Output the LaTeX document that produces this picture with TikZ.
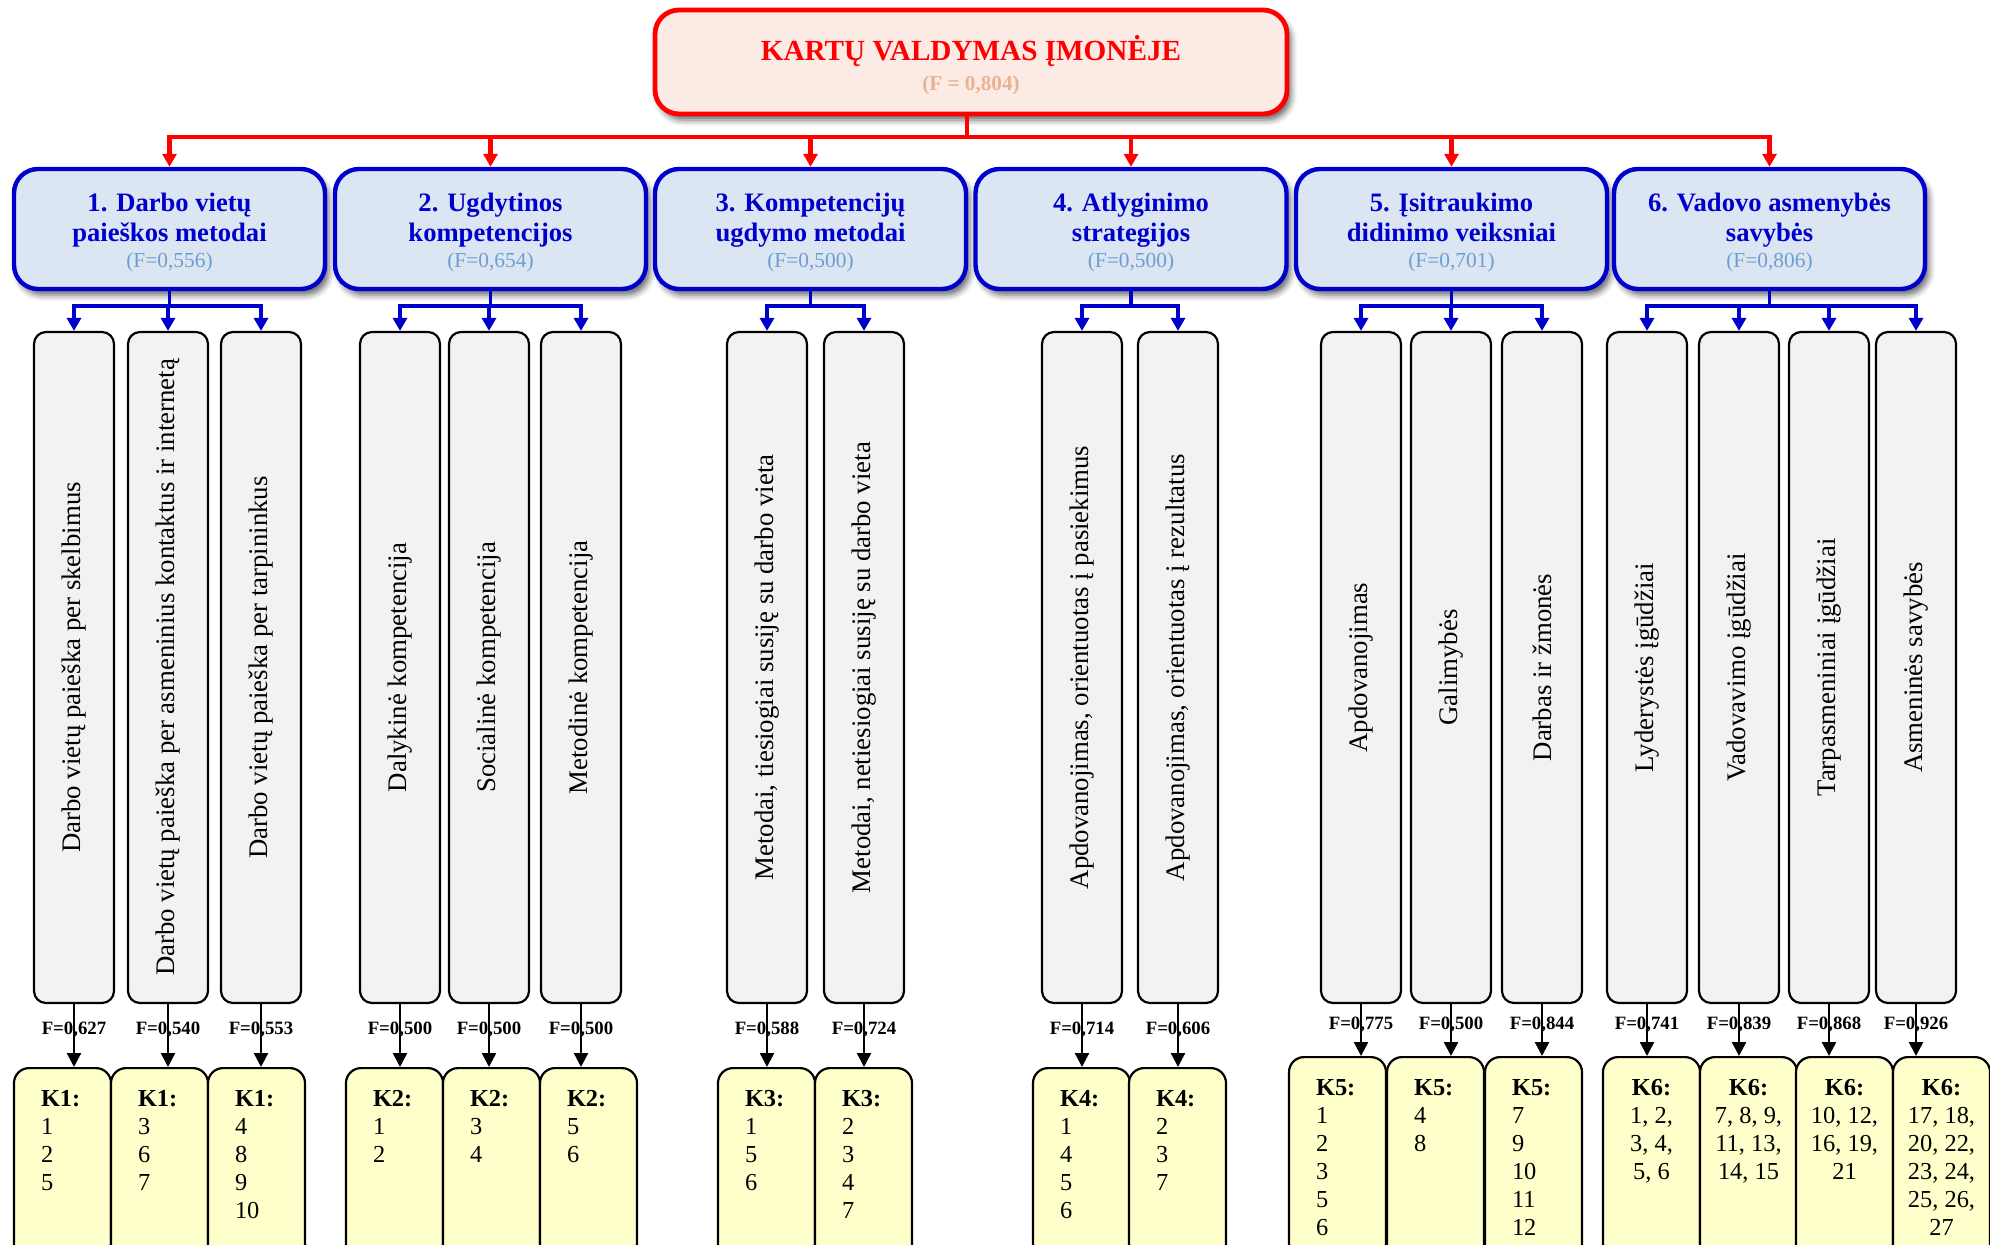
\documentclass[tikz,border=0pt]{standalone}
\usepackage{fontspec}
\setmainfont{Liberation Serif}
\usepackage{graphicx}
\usetikzlibrary{arrows.meta, shadows.blur}
\definecolor{toppink}{HTML}{FCEAE4}
\definecolor{toppeach}{HTML}{E8B391}
\definecolor{groupblue}{HTML}{0000CC}
\definecolor{groupfill}{HTML}{DCE6F2}
\definecolor{groupf}{HTML}{6E9DD3}
\definecolor{itemgrey}{HTML}{F2F2F2}
\definecolor{codeyellow}{HTML}{FFFFCC}
\newcommand{\topF}[1]{{\fontsize{10.6}{12}\selectfont\color{toppeach}#1}}
\newcommand{\groupF}[1]{{\fontsize{10.7}{12}\selectfont\mdseries\color{groupf}#1}}
\newcommand{\sidetext}[1]{\rotatebox{90}{#1}}
\newcommand{\kleft}[2]{\parbox[t][96pt][t]{21.5pt}{\textbf{#1}\\#2}}
\newcommand{\kmid}[2]{\parbox[t][96pt][t]{44.5pt}{\centering\textbf{#1}\\#2}}

\begin{document}
\begin{tikzpicture}[x=0.5pt, y=-0.5pt,
        top box/.style={draw=red, line width=2.4pt, fill=toppink, rounded corners=12pt,
            minimum width=316pt, minimum height=52pt, align=center, text=red,
            font=\fontsize{14.6}{17.5}\selectfont\bfseries,
            blur shadow={shadow xshift=2pt, shadow yshift=-3pt, shadow blur radius=3pt, shadow opacity=60}},
        group box/.style={draw=groupblue, line width=2.2pt, fill=groupfill, rounded corners=12pt,
            minimum width=155.5pt, minimum height=60pt, align=center, text=groupblue,
            font=\fontsize{13.3}{15.2}\selectfont\bfseries,
            blur shadow={shadow xshift=2pt, shadow yshift=-3pt, shadow blur radius=3pt, shadow opacity=60}},
        item box/.style={draw=black, line width=1.1pt, fill=itemgrey, rounded corners=6pt,
            minimum width=40pt, minimum height=335.5pt, inner sep=0pt,
            font=\fontsize{13.4}{16}\selectfont},
        code box/.style={draw=black, line width=1.1pt, fill=codeyellow, rounded corners=7.5pt,
            anchor=north, inner xsep=13.5pt, inner ysep=11pt,
            font=\fontsize{12.2}{14}\selectfont},
        wide code box/.style={code box, inner xsep=2pt},
        red arrow/.style={draw=red, line width=2.2pt, -{Triangle[width=7pt,length=6.5pt]}},
        blue arrow/.style={draw=groupblue, line width=1.8pt, -{Triangle[width=7pt,length=6.5pt]}},
        black arrow/.style={draw=black, line width=1.2pt, -{Triangle[width=7pt,length=7pt]}},
        f label/.style={font=\fontsize{9.4}{11}\selectfont\bfseries, inner sep=0pt, pos=0.4}]

    \useasboundingbox (0,0) rectangle (1990,1245);

    \node[top box] (top) at (971,62) {\rule{0pt}{15.5pt}KARTŲ VALDYMAS ĮMONĖJE\\[-2.5pt]\topF{(F = 0,804)}};

    \node[group box] (c1) at (169.5,229) {\rule{0pt}{13pt}1. Darbo vietų\\paieškos metodai\\[-2.2pt]\groupF{(F=0,556)}};
    \node[group box] (c2) at (490.5,229) {\rule{0pt}{13pt}2. Ugdytinos\\kompetencijos\\[-2.2pt]\groupF{(F=0,654)}};
    \node[group box] (c3) at (810.5,229) {\rule{0pt}{13pt}3. Kompetencijų\\ugdymo metodai\\[-2.2pt]\groupF{(F=0,500)}};
    \node[group box] (c4) at (1131,229) {\rule{0pt}{13pt}4. Atlyginimo\\strategijos\\[-2.2pt]\groupF{(F=0,500)}};
    \node[group box] (c5) at (1451.5,229) {\rule{0pt}{13pt}5. Įsitraukimo\\didinimo veiksniai\\[-2.2pt]\groupF{(F=0,701)}};
    \node[group box] (c6) at (1769.5,229) {\rule{0pt}{13pt}6. Vadovo asmenybės\\savybės\\[-2.2pt]\groupF{(F=0,806)}};

    \coordinate (redbus) at (0,137);
    \coordinate (bluebus) at (0,306);

    \draw[red arrow] ([xshift=-2pt]top.south) -- ([xshift=-2pt]top.south |- redbus) -| (c1.north);
    \draw[red arrow] ([xshift=-2pt]top.south) -- ([xshift=-2pt]top.south |- redbus) -| (c2.north);
    \draw[red arrow] ([xshift=-2pt]top.south) -- ([xshift=-2pt]top.south |- redbus) -| (c3.north);
    \draw[red arrow] ([xshift=-2pt]top.south) -- ([xshift=-2pt]top.south |- redbus) -| (c4.north);
    \draw[red arrow] ([xshift=-2pt]top.south) -- ([xshift=-2pt]top.south |- redbus) -| (c5.north);
    \draw[red arrow] ([xshift=-2pt]top.south) -- ([xshift=-2pt]top.south |- redbus) -| (c6.north);

    \node[item box] (v11) at (74,667.5) {\sidetext{Darbo vietų paieška per skelbimus}};
    \node[item box] (v12) at (168,667.5) {\sidetext{Darbo vietų paieška per asmeninius kontaktus ir internetą}};
    \node[item box] (v13) at (261,667.5) {\sidetext{Darbo vietų paieška per tarpininkus}};
    \node[item box] (v21) at (400,667.5) {\sidetext{Dalykinė kompetencija}};
    \node[item box] (v22) at (489,667.5) {\sidetext{Socialinė kompetencija}};
    \node[item box] (v23) at (581,667.5) {\sidetext{Metodinė kompetencija}};
    \node[item box] (v31) at (767,667.5) {\sidetext{Metodai, tiesiogiai susiję su darbo vieta}};
    \node[item box] (v32) at (864,667.5) {\sidetext{Metodai, netiesiogiai susiję su darbo vieta}};
    \node[item box] (v41) at (1082,667.5) {\sidetext{Apdovanojimas, orientuotas į pasiekimus}};
    \node[item box] (v42) at (1178,667.5) {\sidetext{Apdovanojimas, orientuotas į rezultatus}};
    \node[item box] (v51) at (1361,667.5) {\sidetext{Apdovanojimas}};
    \node[item box] (v52) at (1451,667.5) {\sidetext{Galimybės}};
    \node[item box] (v53) at (1542,667.5) {\sidetext{Darbas ir žmonės}};
    \node[item box] (v61) at (1647,667.5) {\sidetext{Lyderystės įgūdžiai}};
    \node[item box] (v62) at (1739,667.5) {\sidetext{Vadovavimo įgūdžiai}};
    \node[item box] (v63) at (1829,667.5) {\sidetext{Tarpasmeniniai įgūdžiai}};
    \node[item box] (v64) at (1916,667.5) {\sidetext{Asmeninės savybės}};

    \draw[blue arrow] (c1.south) -- (c1.south |- bluebus) -| (v11.north);
    \draw[blue arrow] (c1.south) -- (c1.south |- bluebus) -| (v12.north);
    \draw[blue arrow] (c1.south) -- (c1.south |- bluebus) -| (v13.north);
    \draw[blue arrow] (c2.south) -- (c2.south |- bluebus) -| (v21.north);
    \draw[blue arrow] (c2.south) -- (c2.south |- bluebus) -| (v22.north);
    \draw[blue arrow] (c2.south) -- (c2.south |- bluebus) -| (v23.north);
    \draw[blue arrow] (c3.south) -- (c3.south |- bluebus) -| (v31.north);
    \draw[blue arrow] (c3.south) -- (c3.south |- bluebus) -| (v32.north);
    \draw[blue arrow] (c4.south) -- (c4.south |- bluebus) -| (v41.north);
    \draw[blue arrow] (c4.south) -- (c4.south |- bluebus) -| (v42.north);
    \draw[blue arrow] (c5.south) -- (c5.south |- bluebus) -| (v51.north);
    \draw[blue arrow] (c5.south) -- (c5.south |- bluebus) -| (v52.north);
    \draw[blue arrow] (c5.south) -- (c5.south |- bluebus) -| (v53.north);
    \draw[blue arrow] (c6.south) -- (c6.south |- bluebus) -| (v61.north);
    \draw[blue arrow] (c6.south) -- (c6.south |- bluebus) -| (v62.north);
    \draw[blue arrow] (c6.south) -- (c6.south |- bluebus) -| (v63.north);
    \draw[blue arrow] (c6.south) -- (c6.south |- bluebus) -| (v64.north);

    \node[code box] (k11) at (62.5,1067) {\kleft{K1:}{1\\2\\5}};
    \node[code box] (k12) at (159.5,1067) {\kleft{K1:}{3\\6\\7}};
    \node[code box] (k13) at (256.5,1067) {\kleft{K1:}{4\\8\\9\\10}};
    \node[code box] (k21) at (394.5,1067) {\kleft{K2:}{1\\2}};
    \node[code box] (k22) at (491.5,1067) {\kleft{K2:}{3\\4}};
    \node[code box] (k23) at (588.5,1067) {\kleft{K2:}{5\\6}};
    \node[code box] (k31) at (766.5,1067) {\kleft{K3:}{1\\5\\6}};
    \node[code box] (k32) at (863.5,1067) {\kleft{K3:}{2\\3\\4\\7}};
    \node[code box] (k41) at (1081.5,1067) {\kleft{K4:}{1\\4\\5\\6}};
    \node[code box] (k42) at (1177.5,1067) {\kleft{K4:}{2\\3\\7}};
    \node[code box] (k51) at (1337.5,1056) {\kleft{K5:}{1\\2\\3\\5\\6}};
    \node[code box] (k52) at (1435.5,1056) {\kleft{K5:}{4\\8}};
    \node[code box] (k53) at (1533.5,1056) {\kleft{K5:}{7\\9\\10\\11\\12}};
    \node[wide code box] (k61) at (1651.5,1056) {\kmid{K6:}{1, 2,\\3, 4,\\5, 6}};
    \node[wide code box] (k62) at (1748.5,1056) {\kmid{K6:}{7, 8, 9,\\11, 13,\\14, 15}};
    \node[wide code box] (k63) at (1844.5,1056) {\kmid{K6:}{10, 12,\\16, 19,\\21}};
    \node[wide code box] (k64) at (1941.5,1056) {\kmid{K6:}{17, 18,\\20, 22,\\23, 24,\\25, 26,\\27}};

    \draw[black arrow] (v11.south) -- node[f label] (f11) {F=0,627} (v11.south |- k11.north);
    \draw[black arrow] (v12.south) -- node[f label] (f12) {F=0,540} (v12.south |- k12.north);
    \draw[black arrow] (v13.south) -- node[f label] (f13) {F=0,553} (v13.south |- k13.north);
    \draw[black arrow] (v21.south) -- node[f label] (f21) {F=0,500} (v21.south |- k21.north);
    \draw[black arrow] (v22.south) -- node[f label] (f22) {F=0,500} (v22.south |- k22.north);
    \draw[black arrow] (v23.south) -- node[f label] (f23) {F=0,500} (v23.south |- k23.north);
    \draw[black arrow] (v31.south) -- node[f label] (f31) {F=0,588} (v31.south |- k31.north);
    \draw[black arrow] (v32.south) -- node[f label] (f32) {F=0,724} (v32.south |- k32.north);
    \draw[black arrow] (v41.south) -- node[f label] (f41) {F=0,714} (v41.south |- k41.north);
    \draw[black arrow] (v42.south) -- node[f label] (f42) {F=0,606} (v42.south |- k42.north);
    \draw[black arrow] (v51.south) -- node[f label] (f51) {F=0,775} (v51.south |- k51.north);
    \draw[black arrow] (v52.south) -- node[f label] (f52) {F=0,500} (v52.south |- k52.north);
    \draw[black arrow] (v53.south) -- node[f label] (f53) {F=0,844} (v53.south |- k53.north);
    \draw[black arrow] (v61.south) -- node[f label] (f61) {F=0,741} (v61.south |- k61.north);
    \draw[black arrow] (v62.south) -- node[f label] (f62) {F=0,839} (v62.south |- k62.north);
    \draw[black arrow] (v63.south) -- node[f label] (f63) {F=0,868} (v63.south |- k63.north);
    \draw[black arrow] (v64.south) -- node[f label] (f64) {F=0,926} (v64.south |- k64.north);
\end{tikzpicture}
\end{document}
